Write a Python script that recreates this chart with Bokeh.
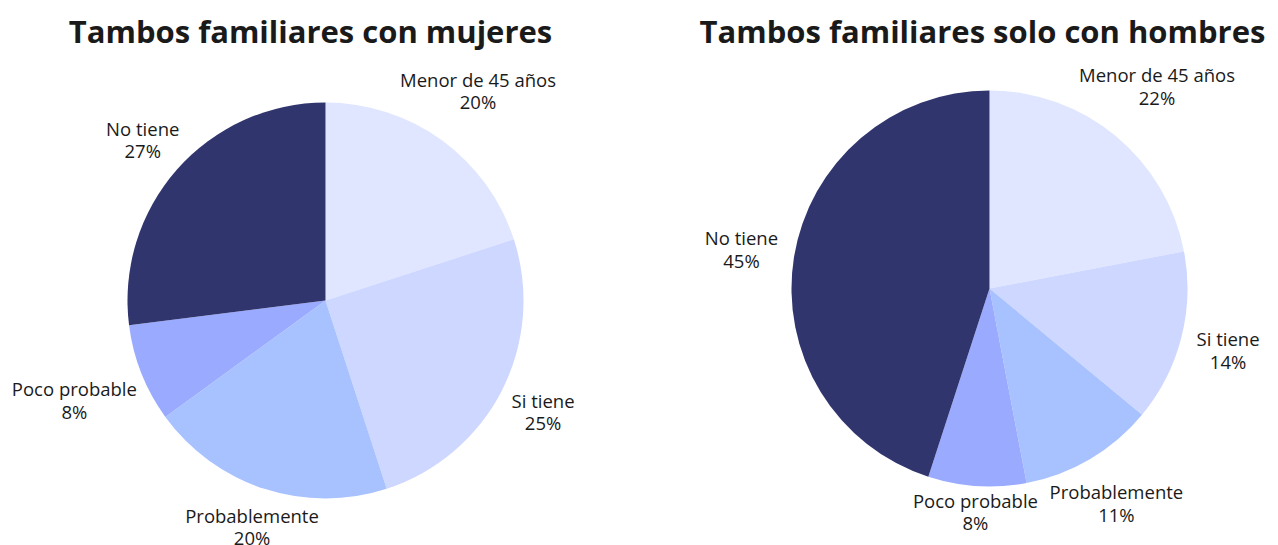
import numpy as np
from bokeh.plotting import figure
from bokeh.models import Range1d
from bokeh.core.properties import value
from bokeh.embed import file_html
from bokeh.resources import INLINE

categories = ["Menor de 45 años", "Si tiene", "Probablemente", "Poco probable", "No tiene"]
mujeres = [20, 25, 20, 8, 27]
hombres = [22, 14, 11, 8, 45]
titles = ["Tambos familiares con mujeres", "Tambos familiares solo con hombres"]
colors = ["#e0e6ff", "#cdd7ff", "#a8c1ff", "#9aabff", "#31356e"]

W, H = 1270, 545
# data coords: x = screen x, y = 545 - screen y
p = figure(width=W, height=H, x_range=Range1d(0, W), y_range=Range1d(545 - H, 545),
           output_backend="svg", toolbar_location=None, min_border=0)
p.axis.visible = False
p.grid.visible = False
p.outline_line_color = None
p.background_fill_color = "white"
p.border_fill_color = "white"

R = 198
FS = 18.5
# approximate Open Sans advance widths (em) for label width estimation
CW = {"a": .556, "b": .613, "c": .479, "d": .613, "e": .561, "i": .258, "l": .258,
      "m": .928, "n": .613, "ñ": .613, "o": .603, "p": .613, "r": .408, "s": .477,
      "t": .353, "M": .907, "S": .549, "P": .603, "N": .754, " ": .26}


def text_w(s):
    return sum(CW.get(ch, .572) for ch in s) * FS


pies = [
    dict(vals=mujeres, cx=325, cy=545 - 300, title=titles[0], tx=310),
    dict(vals=hombres, cx=989, cy=545 - 288, title=titles[1], tx=982),
]

FONT = value("Open Sans")
for pie in pies:
    v = np.array(pie["vals"], dtype=float)
    frac = v / v.sum()
    cum_after = np.cumsum(frac)
    cum_before = cum_after - frac
    start = np.pi / 2 - 2 * np.pi * cum_before
    end = np.pi / 2 - 2 * np.pi * cum_after
    p.wedge(x=pie["cx"], y=pie["cy"], radius=R, start_angle=start, end_angle=end,
            direction="clock", fill_color=colors, line_color=None)
    mid = 2 * np.pi * (cum_before + frac / 2)
    ux = np.sin(mid)
    uy = np.cos(mid)
    widths = np.array([text_w(c) for c in categories])
    rl = 220 + 0.43 * widths * np.abs(ux)
    lx = pie["cx"] + rl * ux
    ly = pie["cy"] + rl * uy
    texts = [f"{c}\n{int(val)}%" for c, val in zip(categories, pie["vals"])]
    p.text(x=lx, y=ly, text=texts, text_align="center", text_baseline="middle",
           text_font=FONT, text_font_size=f"{FS}px", text_color="#1a1a1a",
           text_line_height=0.9)
    p.text(x=[pie["tx"]], y=[545 - 30], text=[pie["title"]], text_align="center",
           text_baseline="middle", text_font=FONT, text_font_size="31px",
           text_font_style="bold", text_color="#1a1a1a")

open("out.html", "w").write(file_html(p, INLINE))
